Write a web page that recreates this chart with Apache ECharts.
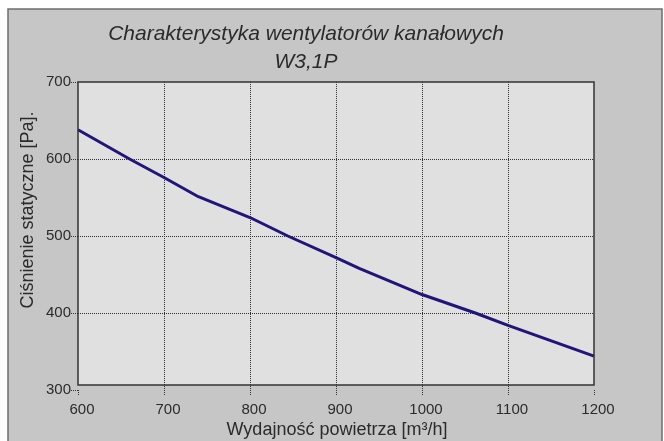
<!DOCTYPE html>
<html>
<head>
<meta charset="utf-8">
<script src="https://cdn.jsdelivr.net/npm/echarts@6/dist/echarts.min.js"></script>
<style>html,body{margin:0;padding:0;background:#fff}#c{width:664px;height:441px}</style>
</head>
<body>
<div id="c"></div>
<script>
var titleLines = ['Charakterystyka wentylatorów kanałowych', 'W3,1P'];
var xAxisTitle = 'Wydajność powietrza [m³/h]';
var yAxisTitle = 'Ciśnienie statyczne [Pa].';
var flowValues = [600, 660, 700, 740, 800, 844, 900, 927, 1000, 1062, 1100, 1200];
var pressureValues = [638, 600, 576, 551, 524, 500, 472, 458, 424, 400, 384, 344];

var FONT = 'Liberation Sans, Arial, sans-serif';
var TXT = '#2b2b2b';
var chart = echarts.init(document.getElementById('c'), null, {renderer: 'canvas'});
chart.setOption({
  backgroundColor: '#ffffff',
  animation: false,
  title: {
    text: titleLines.join('\n'),
    left: 301, top: 15,
    textAlign: 'center',
    textStyle: {fontFamily: FONT, fontStyle: 'italic', fontWeight: 'normal', fontSize: 21, color: TXT, lineHeight: 28}
  },
  grid: {left: 78, right: 70, top: 82, bottom: 51, show: false},
  xAxis: {
    type: 'value', min: 600, max: 1200, interval: 100,
    axisLine: {show: false},
    axisTick: {show: true, length: 5, lineStyle: {color: '#333', type: 'dotted', width: 1}},
    axisLabel: {fontFamily: FONT, fontSize: 15, color: TXT, margin: 12, padding: [0, 0, 0, 8],
      formatter: function (v) { return String(v); }},
    splitLine: {show: true, showMinLine: false, showMaxLine: false, lineStyle: {color: '#333', type: 'dotted', width: 1}}
  },
  yAxis: {
    type: 'value', min: 300, max: 700, interval: 100,
    axisLine: {show: false},
    axisTick: {show: true, length: 7, lineStyle: {color: '#333', type: 'dotted', width: 1}},
    axisLabel: {fontFamily: FONT, fontSize: 15, color: TXT, margin: 7,
      formatter: function (v) { return String(v); }},
    splitLine: {show: true, showMinLine: false, showMaxLine: false, lineStyle: {color: '#333', type: 'dotted', width: 1}}
  },
  graphic: [
    {type: 'rect', z: -30, shape: {x: 8, y: 9, width: 654, height: 440}, style: {fill: '#c6c6c6', stroke: '#6e6e6e', lineWidth: 1.5}},
    {type: 'rect', z: -20, shape: {x: 78, y: 82, width: 516, height: 303}, style: {fill: '#e0e0e0', stroke: null}},
    {type: 'rect', z: 50, shape: {x: 78, y: 82, width: 516, height: 303}, style: {fill: null, stroke: '#333', lineWidth: 1.5}},
    {type: 'text', z: 50, x: 28, y: 210, rotation: Math.PI / 2,
     style: {text: yAxisTitle, fontFamily: FONT, fontSize: 18, fill: TXT, textAlign: 'center', textVerticalAlign: 'middle'}},
    {type: 'text', z: 50, x: 337, y: 430,
     style: {text: xAxisTitle, fontFamily: FONT, fontSize: 18, fill: TXT, textAlign: 'center', textVerticalAlign: 'middle'}}
  ],
  series: [{
    type: 'line',
    data: flowValues.map(function (v, i) { return [v, pressureValues[i]]; }),
    showSymbol: false,
    lineStyle: {color: '#21157a', width: 3},
    z: 10
  }]
});
</script>
</body>
</html>
